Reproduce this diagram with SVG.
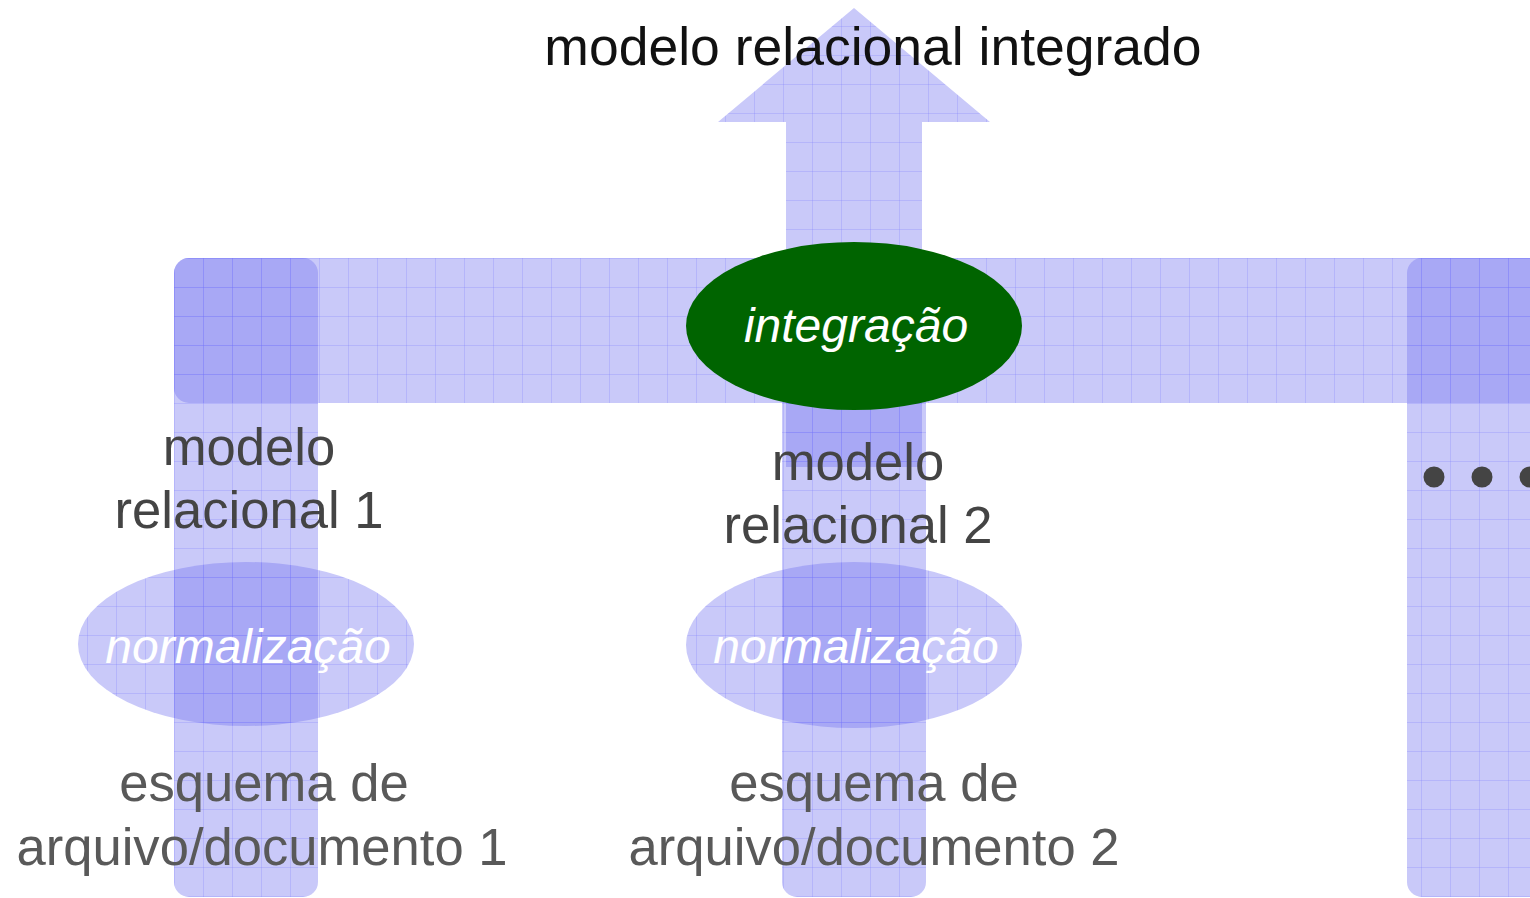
<svg xmlns="http://www.w3.org/2000/svg" width="1530" height="898" viewBox="0 0 1530 898">
<defs>
<pattern id="grid" patternUnits="userSpaceOnUse" x="174" y="258" width="29" height="29">
<rect width="29" height="29" fill="#7070f0" fill-opacity="0.38"/>
<path d="M0.5 0 V29 M0 0.5 H29" stroke="#6a6aff" stroke-opacity="0.2" stroke-width="1" fill="none"/>
</pattern>
<style>
.band{fill:url(#grid)}
.lbl{font-family:"Liberation Sans",Arial,sans-serif;font-size:52.6px;text-anchor:middle}
.dark{fill:#444444}
.mid{fill:#595959}
.ital{font-family:"Liberation Sans",Arial,sans-serif;font-size:48px;font-style:italic;fill:#ffffff;text-anchor:middle}
</style>
</defs>
<rect width="1530" height="898" fill="#ffffff"/>
<g id="connectors">
<rect class="band" x="174" y="258" width="144" height="639" rx="15"/>
<rect class="band" x="782" y="258" width="144" height="639" rx="15"/>
<rect class="band" x="1407" y="258" width="150" height="639" rx="15"/>
<rect class="band" x="174" y="258" width="1380" height="145" rx="15"/>
<polygon class="band" points="854,8 990,122 922,122 922,467 786,467 786,122 718,122"/>
</g>
<g id="title">
<text x="873" y="65" style="font-family:'Liberation Sans',Arial,sans-serif;font-size:53.5px;text-anchor:middle;fill:#111111">modelo relacional integrado</text>
</g>
<g id="integracao">
<ellipse cx="854" cy="326" rx="168" ry="84" fill="#006400"/>
<text class="ital" x="856" y="342">integração</text>
</g>
<g id="norm1">
<ellipse class="band" cx="246" cy="644" rx="168" ry="82"/>
<text class="ital" x="248" y="663">normalização</text>
</g>
<g id="norm2">
<ellipse class="band" cx="854" cy="645" rx="168" ry="83"/>
<text class="ital" x="856" y="663">normalização</text>
</g>
<g id="modelo1">
<text class="lbl dark" x="249" y="465">modelo</text>
<text class="lbl dark" x="249" y="528">relacional 1</text>
</g>
<g id="modelo2">
<text class="lbl dark" x="858" y="480">modelo</text>
<text class="lbl dark" x="858" y="543">relacional 2</text>
</g>
<g id="esquema1">
<text class="lbl mid" x="264" y="801">esquema de</text>
<text class="lbl mid" x="262" y="865">arquivo/documento 1</text>
</g>
<g id="esquema2">
<text class="lbl mid" x="874" y="801">esquema de</text>
<text class="lbl mid" x="874" y="865">arquivo/documento 2</text>
</g>
<g id="dots" fill="#444444">
<circle cx="1434" cy="477" r="10.5"/>
<circle cx="1482" cy="477" r="10.5"/>
<circle cx="1530" cy="477" r="10.5"/>
</g>
</svg>
